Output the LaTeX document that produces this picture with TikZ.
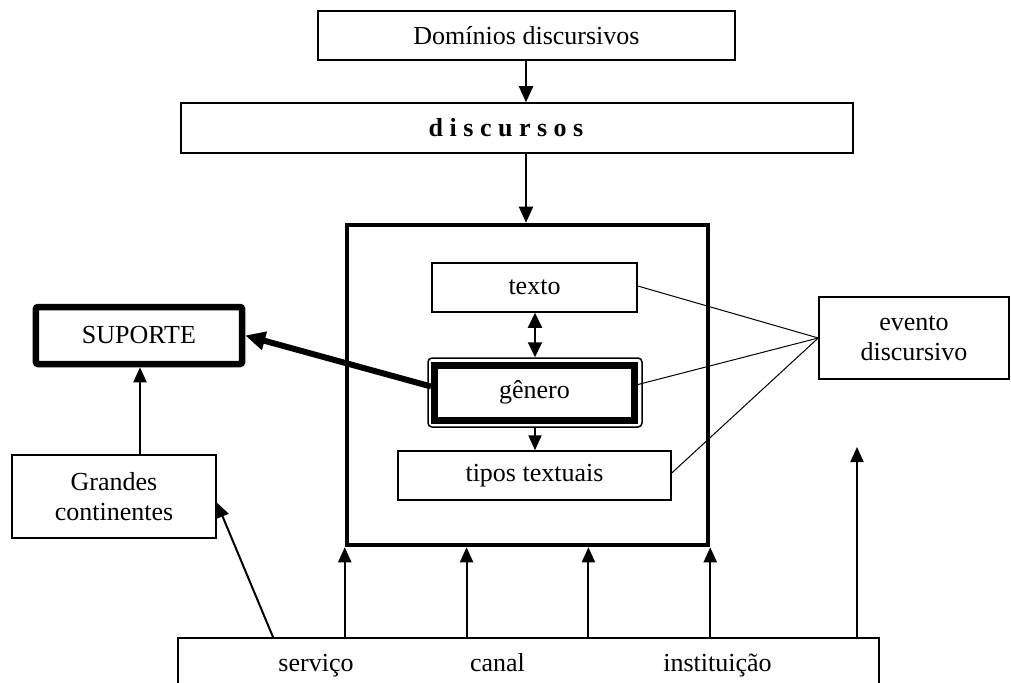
\documentclass[tikz,border=0pt]{standalone}
\usepackage{fontspec}
\setmainfont{Liberation Serif}
\usetikzlibrary{arrows.meta,calc}
\begin{document}
\begin{tikzpicture}[x=1bp,y=-1bp,
  every node/.style={font=\fontsize{26bp}{30bp}\selectfont, inner sep=0pt, align=center},
  box/.style={draw, rectangle, line width=1.5bp},
  arr/.style={-{Triangle[length=15bp,width=13bp]}, line width=2bp},
  conn/.style={line width=1bp}]
\useasboundingbox (0,0) rectangle (1011,683);
\clip (0,0) rectangle (1011,683);

% top boxes
\node[box, minimum width=417bp, minimum height=49bp] (dom) at (526.5,35.5) {Domínios discursivos};
\node[box, minimum width=672bp, minimum height=50bp] (disc) at (517,128) {\textbf{d i s c u r s o s}\hspace*{22bp}};

% big box
\node[draw, line width=4.5bp, minimum width=361bp, minimum height=320bp] (big) at (527.5,385) {};

% inner boxes
\node[box, minimum width=205bp, minimum height=49bp] (texto) at (534.5,287.5) {texto};
\node[draw, line width=1.5bp, rounded corners=4bp, minimum width=214bp, minimum height=69bp] (genout) at (535,392.5) {};
\node[draw, line width=7bp, minimum width=200bp, minimum height=55bp] (genin) at (534.5,392.5) {gênero};
\node[box, minimum width=273bp, minimum height=49bp] (tipos) at (534.5,475.5) {tipos textuais};

% left boxes
\node[draw, line width=6.5bp, rounded corners=2bp, minimum width=206bp, minimum height=57bp] (sup) at (139,335.5) {SUPORTE};
\node[box, minimum width=204bp, minimum height=83bp] (gc) at (114,496.5) {Grandes\\continentes};

% right box
\node[box, minimum width=190bp, minimum height=82bp] (ev) at (914,338) {evento\\discursivo};

% bottom box (open at the bottom edge of the picture)
\node[box, anchor=north west, minimum width=701bp, minimum height=100bp] (bot) at (177,637) {};
\node[anchor=base] (serv) at (316,671) {serviço};
\node[anchor=base] (canal) at (497.5,671) {canal};
\node[anchor=base] (inst) at (717.5,671) {instituição};

% arrows top
\draw[arr, -{Triangle[length=16bp,width=14bp]}] (dom.south -| 526,0) -- (disc.north -| 526,0);
\draw[arr, -{Triangle[length=16bp,width=14bp]}] (disc.south -| 526,0) -- (big.north -| 526,0);

% inner arrows
\draw[arr, {Triangle[length=15bp,width=14bp]}-{Triangle[length=15bp,width=14bp]}] (texto.south -| genout.north) -- (genout.north);
\draw[arr] (genout.south) -- (tipos.north -| genout.south);

% thick arrow to SUPORTE
\draw[line width=6bp, -{Triangle[length=20bp,width=18bp]}] ($(genin.west)+(0,-6)$) -- (sup.east);

% Grandes -> SUPORTE
\draw[arr] (gc.north -| 140,0) -- (sup.south -| 140,0);

% connectors to evento
\draw[conn] ($(texto.east)+(0,-1.5)$) -- (ev.west);
\draw[conn] ($(genin.east)+(0,-8)$) -- (ev.west);
\draw[conn] ($(tipos.east)+(0,-2.5)$) -- (ev.west);

% arrows from bottom box
\coordinate (b0) at (big.south west);
\coordinate (b1) at ($(big.south west)!1/3!(big.south east)$);
\coordinate (b2) at ($(big.south west)!2/3!(big.south east)$);
\coordinate (b3) at (big.south east);
\foreach \c in {b0,b1,b2,b3} \draw[arr] (bot.north -| \c) -- (\c);
\coordinate (evtip) at (857,447);
\draw[arr] (bot.north -| evtip) -- (evtip);
\draw[arr] ($(bot.north west)+(96,0)$) -- ($(gc.east)+(0,6)$);
\end{tikzpicture}
\end{document}
